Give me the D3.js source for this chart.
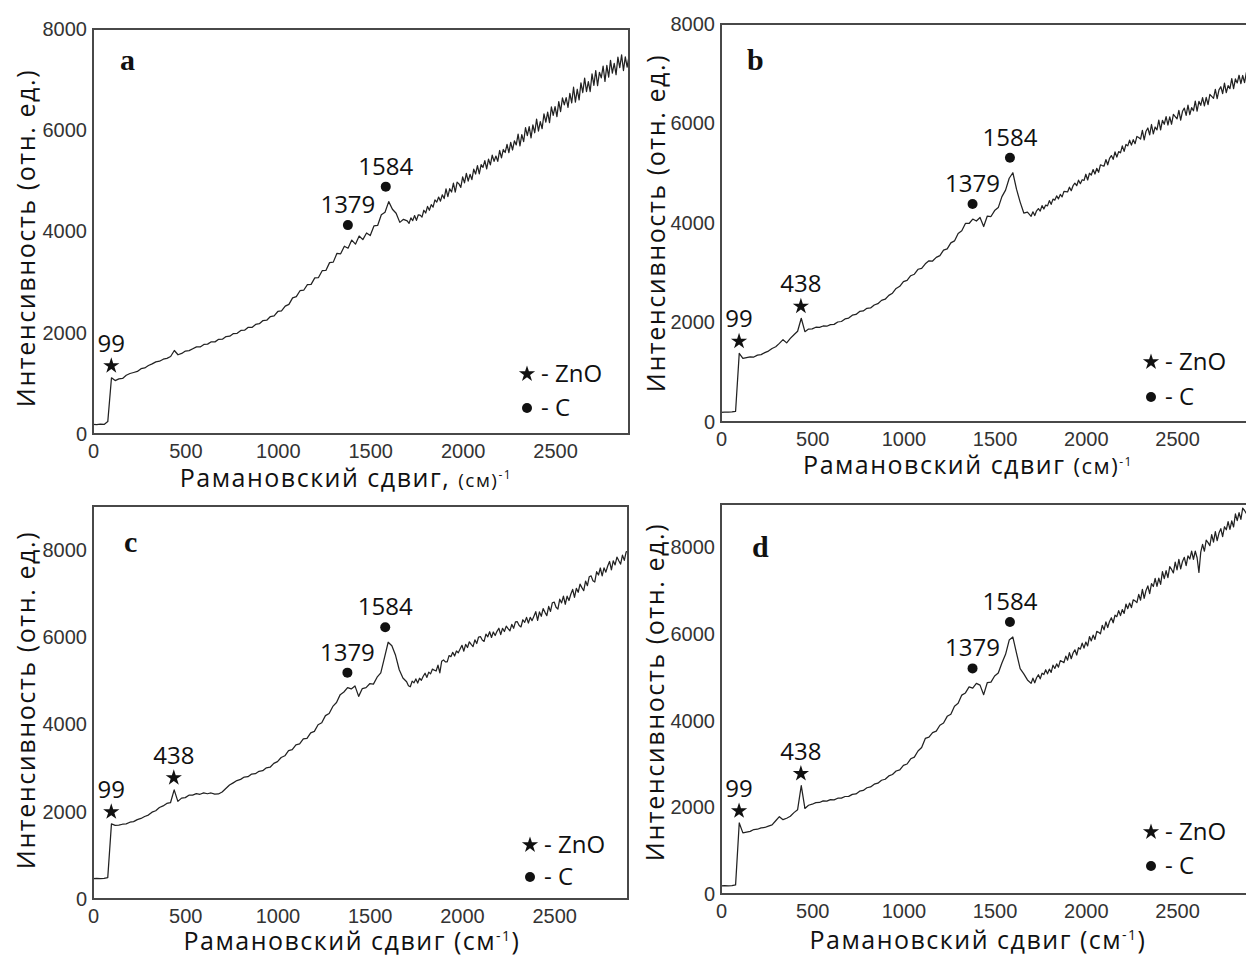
<!DOCTYPE html>
<html>
<head>
<meta charset="utf-8">
<script src="https://cdn.jsdelivr.net/npm/d3@7"></script>
<style>
  body { margin: 0; background: #fff; }
  svg { display: block; }
</style>
</head>
<body>
<svg id="fig" width="1246" height="956"></svg>
<script>
// Raman shift sampling, cm^-1: 20 cm^-1 steps up to 1680, 10 cm^-1 steps from 1700 to 2900
const ramanShift = d3.range(0, 1700, 20).concat(d3.range(1700, 2901, 10));

// Measured intensities (arb. units), one value per sampling point
const intensityA = [
  // 0 – 1680
  190,186,193,190,245,1110,1055,1088,1098,1160,
  1195,1215,1236,1290,1305,1352,1385,1425,1438,1478,
  1495,1530,1650,1565,1592,1638,1648,1685,1722,1720,
  1768,1775,1822,1820,1870,1872,1925,1932,1985,1990,
  2045,2050,2108,2105,2165,2178,2240,2248,2320,2335,
  2420,2432,2525,2560,2690,2715,2830,2840,2950,2955,
  3085,3090,3225,3230,3385,3395,3570,3560,3710,3670,
  3830,3750,3910,3840,3970,3920,4110,4120,4330,4380,
  4590,4440,4360,4180,4240,
  // 1700 – 2900
  4210,4160,4270,4215,4315,4220,4330,4325,4285,4420,
  4365,4495,4420,4530,4480,4625,4580,4680,4600,4725,
  4650,4840,4690,4845,4780,4955,4780,4975,4940,4870,
  5080,4960,5150,4995,5130,5025,5230,5135,5300,5140,
  5320,5265,5400,5235,5430,5315,5510,5385,5490,5385,
  5600,5455,5620,5560,5720,5560,5760,5610,5790,5710,
  5925,5690,5915,5775,6050,5895,6070,5850,6105,5950,
  6220,5985,6170,6030,6325,6160,6360,6150,6460,6295,
  6465,6270,6565,6370,6640,6500,6645,6450,6730,6540,
  6850,6555,6810,6600,6935,6745,7030,6765,6960,6765,
  7115,6885,7180,6880,7145,7035,7265,6965,7280,7050,
  7380,7130,7320,7100,7445,7235,7490,7180,7450,7245,
  7465
];
const intensityB = [
  195,200,197,202,215,1380,1280,1295,1310,1305,
  1345,1355,1395,1425,1478,1512,1580,1655,1590,1680,
  1755,1825,2085,1815,1868,1872,1905,1902,1930,1925,
  1958,1962,2010,2020,2072,2090,2148,2162,2222,2232,
  2285,2292,2352,2378,2445,2468,2545,2588,2685,2728,
  2820,2845,2940,2970,3070,3090,3180,3240,3235,3310,
  3345,3455,3480,3600,3640,3790,3845,3990,3990,4080,
  4040,4110,3930,4140,4130,4250,4310,4530,4660,4900,
  5010,4680,4420,4200,4220,
  4135,4225,4150,4245,4290,4240,4350,4280,4360,4345,
  4450,4375,4480,4460,4545,4485,4575,4525,4635,4630,
  4625,4720,4650,4750,4800,4750,4860,4790,4870,4855,
  4980,4865,5000,4965,5075,4985,5100,5020,5170,5155,
  5145,5275,5170,5300,5355,5280,5430,5325,5435,5410,
  5550,5440,5580,5550,5665,5565,5675,5595,5740,5720,
  5685,5860,5670,5845,5910,5770,5980,5790,5930,5870,
  6070,5870,6065,5985,6140,5970,6135,5985,6185,6140,
  6095,6265,6070,6245,6310,6165,6370,6180,6320,6255,
  6450,6250,6445,6365,6520,6355,6525,6380,6585,6545,
  6505,6685,6500,6675,6740,6600,6810,6620,6760,6700,
  6900,6700,6895,6815,6970,6800,6965,6820,7025,6980,
  6935
];
const intensityC = [
  468,472,466,471,490,1720,1685,1690,1712,1722,
  1758,1772,1818,1845,1890,1922,1988,2022,2095,2132,
  2188,2205,2500,2235,2310,2322,2378,2380,2412,2398,
  2430,2410,2428,2400,2405,2450,2530,2610,2660,2712,
  2740,2792,2800,2862,2870,2925,2938,3005,3018,3105,
  3145,3240,3280,3400,3420,3530,3550,3665,3680,3805,
  3840,3990,4035,4200,4250,4410,4500,4680,4740,4840,
  4810,4880,4640,4820,4840,4930,4920,5080,5180,5530,
  5880,5800,5580,5250,5060,
  4975,4885,4860,4990,4950,5040,4945,5055,5010,5100,
  5170,5075,5195,5155,5265,5240,5220,5355,5180,5445,
  5475,5430,5430,5575,5550,5650,5565,5680,5640,5725,
  5810,5675,5830,5760,5890,5830,5780,5935,5850,6000,
  6010,5930,5900,6065,6005,6120,5990,6115,6035,6130,
  6200,6055,6200,6125,6250,6190,6140,6290,6200,6345,
  6350,6265,6230,6395,6335,6450,6320,6450,6375,6475,
  6580,6380,6575,6475,6650,6565,6490,6700,6585,6785,
  6800,6680,6640,6865,6780,6935,6750,6935,6835,6980,
  7090,6905,7115,7025,7210,7130,7060,7280,7175,7380,
  7400,7290,7260,7495,7420,7580,7400,7585,7485,7625,
  7730,7540,7745,7650,7830,7745,7670,7875,7755,7950,
  7960
];
const intensityD = [
  188,192,187,191,210,1640,1410,1428,1445,1488,
  1495,1526,1535,1568,1595,1690,1785,1715,1748,1795,
  1878,1945,2500,1975,2048,2072,2108,2112,2150,2142,
  2178,2172,2210,2212,2250,2252,2300,2310,2372,2390,
  2452,2470,2535,2558,2625,2648,2725,2758,2838,2865,
  2970,3000,3120,3160,3300,3380,3590,3620,3725,3760,
  3895,3945,4100,4150,4335,4400,4590,4640,4780,4750,
  4860,4820,4600,4880,4890,5030,5100,5330,5530,5860,
  5930,5560,5200,5080,4940,
  4860,4980,4875,4990,5060,4965,5095,5065,5175,5080,
  5190,5115,5280,5205,5310,5235,5385,5365,5340,5490,
  5395,5570,5430,5560,5635,5515,5685,5650,5790,5675,
  5815,5725,5940,5840,5975,5875,6060,6040,6005,6200,
  6095,6280,6150,6290,6375,6260,6435,6400,6540,6425,
  6565,6475,6690,6585,6715,6610,6790,6765,6725,6915,
  6780,7030,6825,7005,7110,6930,7165,7095,7285,7100,
  7290,7145,7440,7280,7460,7300,7555,7490,7410,7660,
  7480,7720,7505,7675,7770,7580,7805,7730,7915,7725,
  7910,7760,7420,7890,8070,7910,8165,8110,8040,8295,
  8120,8365,8155,8330,8430,8245,8475,8405,8595,8415,
  8610,8470,8770,8615,8800,8645,8905,8850,8780,8990,
  8860
];

// Axis ticks
const xTickValues = [0, 500, 1000, 1500, 2000, 2500];
const yTickValues = [0, 2000, 4000, 6000, 8000];

// Assigned bands: shift (cm^-1) and phase
const peaksA = [
  { shift: 99, phase: "ZnO" },
  { shift: 1379, phase: "C" },
  { shift: 1584, phase: "C" }
];
const peaksBCD = [
  { shift: 99, phase: "ZnO" },
  { shift: 438, phase: "ZnO" },
  { shift: 1379, phase: "C" },
  { shift: 1584, phase: "C" }
];
const legendItems = [
  { phase: "ZnO", label: "- ZnO" },
  { phase: "C", label: "- C" }
];

const SANS = "'Open Sans', 'Noto Sans', 'DejaVu Sans', sans-serif";
const TICK_FONT = "'Liberation Sans', Arial, sans-serif";
const SERIF = "'Liberation Serif', 'Times New Roman', serif";

// Panel layout (pixels)
const panels = [
  { letter: "a", series: intensityA, peaks: peaksA, yMax: 8000,
    x: 93, y: 29, w: 536, h: 405,
    xTitle: [{ t: "Рамановский сдвиг, " }, { t: "(см)", size: 19 }, { t: "-1", size: 12, sup: true }],
    xTitleX: 346, xTitleY: 487, yTitleX: 35, yTitleY: 238,
    letterDx: 27, letterDy: 41, legDx: -102, legStarDy: -60, legDotDy: -26 },
  { letter: "b", series: intensityB, peaks: peaksBCD, yMax: 8000,
    x: 721, y: 24, w: 529, h: 398,
    xTitle: [{ t: "Рамановский сдвиг " }, { t: "(см)", size: 22 }, { t: "-1", size: 12, sup: true }],
    xTitleX: 968, xTitleY: 474, yTitleX: 665, yTitleY: 223,
    letterDx: 26, letterDy: 46, legDx: -99, legStarDy: -60, legDotDy: -25 },
  { letter: "c", series: intensityC, peaks: peaksBCD, yMax: 9000,
    x: 93, y: 506, w: 535, h: 393,
    xTitle: [{ t: "Рамановский сдвиг (см" }, { t: "-1", size: 14, sup: true }, { t: ")" }],
    xTitleX: 352, xTitleY: 950, yTitleX: 35, yTitleY: 700,
    letterDx: 31, letterDy: 46, legDx: -98, legStarDy: -54, legDotDy: -22 },
  { letter: "d", series: intensityD, peaks: peaksBCD, yMax: 9000,
    x: 721, y: 504, w: 529, h: 390,
    xTitle: [{ t: "Рамановский сдвиг (см" }, { t: "-1", size: 14, sup: true }, { t: ")" }],
    xTitleX: 978, xTitleY: 949, yTitleX: 664, yTitleY: 692,
    letterDx: 31, letterDy: 53, legDx: -99, legStarDy: -62, legDotDy: -28 }
];

const svg = d3.select("#fig");
svg.append("rect").attr("width", 1246).attr("height", 956).attr("fill", "#fff");

const starPath = d3.symbol(d3.symbolStar, 82)();

function drawMarker(sel, phase, cx, cy) {
  if (phase === "ZnO") {
    sel.append("path").attr("d", starPath)
      .attr("transform", `translate(${cx},${cy})`).attr("fill", "#111");
  } else {
    sel.append("circle").attr("cx", cx).attr("cy", cy).attr("r", 5).attr("fill", "#111");
  }
}

panels.forEach(p => {
  const g = svg.append("g").attr("transform", `translate(${p.x},${p.y})`);
  const x = d3.scaleLinear().domain([0, 2900]).range([0, p.w]);
  const y = d3.scaleLinear().domain([0, p.yMax]).range([p.h, 0]);

  // tick labels only, no tick marks
  const ax = g.append("g").attr("transform", `translate(0,${p.h})`)
    .call(d3.axisBottom(x).tickValues(xTickValues).tickFormat(d3.format("d"))
      .tickSize(0).tickPadding(10));
  const ay = g.append("g")
    .call(d3.axisLeft(y).tickValues(yTickValues).tickFormat(d3.format("d"))
      .tickSize(0).tickPadding(6));
  [ax, ay].forEach(a => {
    a.select(".domain").remove();
    a.attr("font-family", TICK_FONT).attr("font-size", 20);
    a.selectAll("text").attr("fill", "#333");
  });

  // spectrum
  const pts = ramanShift.map((s, i) => ({ s, v: p.series[i] }));
  g.append("path").datum(pts)
    .attr("d", d3.line().x(d => x(d.s)).y(d => y(d.v)))
    .attr("fill", "none").attr("stroke", "#222")
    .attr("stroke-width", 1.25).attr("stroke-linejoin", "round");

  // frame
  g.append("rect").attr("width", p.w).attr("height", p.h)
    .attr("fill", "none").attr("stroke", "#484848").attr("stroke-width", 2);

  // panel letter
  g.append("text").attr("x", p.letterDx).attr("y", p.letterDy)
    .attr("font-family", SERIF).attr("font-weight", "bold").attr("font-size", 30)
    .attr("fill", "#111").text(p.letter);

  // band markers and labels
  p.peaks.forEach(pk => {
    const near = pts.filter(d => Math.abs(d.s - pk.shift) <= 25);
    const top = y(d3.max(near, d => d.v));
    const cx = x(pk.shift);
    const cy = top - (pk.phase === "ZnO" ? 12 : 15);
    drawMarker(g, pk.phase, cx, cy);
    g.append("text").attr("x", cx).attr("y", cy - (pk.phase === "ZnO" ? 14 : 12))
      .attr("text-anchor", "middle").attr("font-family", SANS).attr("font-size", 24)
      .attr("fill", "#111").text(pk.shift);
  });

  // legend
  const lx = p.w + p.legDx;
  legendItems.forEach((it, i) => {
    const ly = p.h + (i === 0 ? p.legStarDy : p.legDotDy);
    drawMarker(g, it.phase, lx, ly);
    g.append("text").attr("x", lx + 14).attr("y", ly).attr("dy", "0.35em")
      .attr("font-family", SANS).attr("font-size", 24).attr("fill", "#111").text(it.label);
  });
});

// axis titles
panels.forEach(p => {
  const t = svg.append("text").attr("x", p.xTitleX).attr("y", p.xTitleY)
    .attr("text-anchor", "middle").attr("font-family", SANS).attr("font-size", 25)
    .attr("letter-spacing", 1.5).attr("fill", "#111");
  p.xTitle.forEach(part => {
    const ts = t.append("tspan").text(part.t);
    if (part.size) ts.attr("font-size", part.size);
    if (part.sup) ts.attr("baseline-shift", "super");
  });
  svg.append("text")
    .attr("transform", `translate(${p.yTitleX},${p.yTitleY}) rotate(-90)`)
    .attr("text-anchor", "middle").attr("font-family", SANS).attr("font-size", 25)
    .attr("letter-spacing", 1.6).attr("fill", "#111").text("Интенсивность (отн. ед.)");
});
</script>
</body>
</html>
